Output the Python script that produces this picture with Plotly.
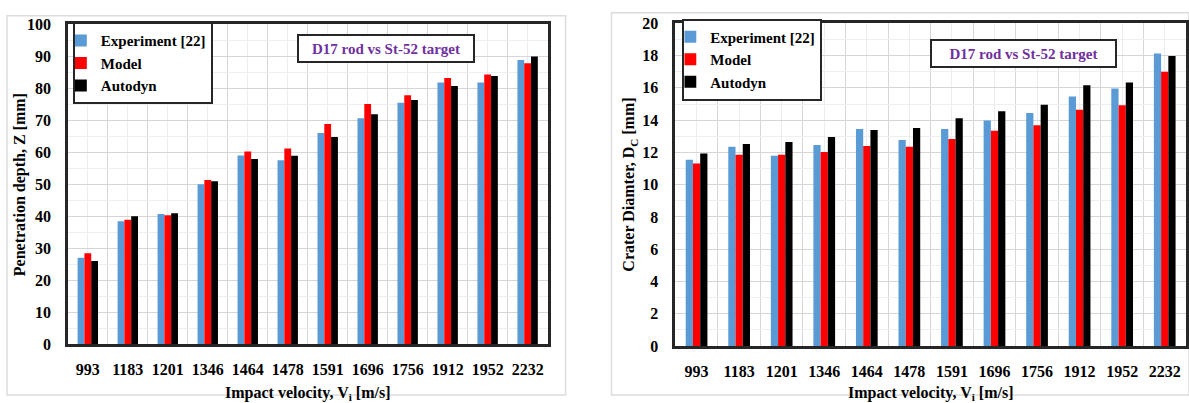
import plotly.graph_objects as go

# Impact velocities (m/s) shared by both panels
velocities = ["993", "1183", "1201", "1346", "1464", "1478",
              "1591", "1696", "1756", "1912", "1952", "2232"]

# Penetration depth Z [mm]
depth_experiment = [27.0, 38.4, 40.7, 50.0, 59.0, 57.5, 66.0, 70.6, 75.5, 81.8, 81.8, 88.8]
depth_model      = [28.4, 38.9, 40.3, 51.3, 60.2, 61.2, 68.8, 75.1, 77.8, 83.2, 84.3, 87.8]
depth_autodyn    = [26.0, 40.0, 40.9, 50.9, 57.9, 58.9, 64.8, 71.9, 76.3, 80.7, 83.8, 89.9]

# Crater diameter Dc [mm]
crater_experiment = [11.55, 12.35, 11.79, 12.46, 13.46, 12.77, 13.45, 13.98, 14.45, 15.46, 15.96, 18.13]
crater_model      = [11.31, 11.86, 11.86, 12.02, 12.40, 12.36, 12.83, 13.35, 13.68, 14.65, 14.93, 17.00]
crater_autodyn    = [11.94, 12.53, 12.65, 12.95, 13.39, 13.52, 14.12, 14.55, 14.96, 16.17, 16.33, 17.97]

series_names = ["Experiment [22]", "Model", "Autodyn"]
series_colors = ["#5B9BD5", "#FF0000", "#000000"]

W, H = 1189, 403
FONT = "Liberation Serif"
AXIS_LINE = "#262626"


def px_x(x):
    return x / W


def px_y(y):
    return 1 - y / H


xpos = list(range(len(velocities)))

fig = go.Figure()

left_sets = [depth_experiment, depth_model, depth_autodyn]
right_sets = [crater_experiment, crater_model, crater_autodyn]

for name, color, vals in zip(series_names, series_colors, left_sets):
    fig.add_trace(go.Bar(x=xpos, y=vals, name=name, marker_color=color,
                         marker_line_width=0, xaxis="x", yaxis="y",
                         legend="legend"))
for name, color, vals in zip(series_names, series_colors, right_sets):
    fig.add_trace(go.Bar(x=xpos, y=vals, name=name, marker_color=color,
                         marker_line_width=0, xaxis="x2", yaxis="y2",
                         legend="legend2"))

tick_font = dict(family=FONT, size=16, color="black", weight="bold")


def x_axis(domain, anchor):
    return dict(
        domain=domain, anchor=anchor, range=[-0.5, len(velocities) - 0.5],
        tickmode="array", tickvals=xpos, ticktext=velocities,
        tickfont=tick_font, ticks="", ticklabelstandoff=9,
        showgrid=True, gridcolor="#ededed", gridwidth=1,
        minor=dict(tickmode="array",
                   tickvals=[i - 0.5 for i in range(len(velocities) + 1)],
                   showgrid=True, gridcolor="#d6d6d6", gridwidth=1, ticks=""),
        showline=True, mirror=True, linecolor=AXIS_LINE, linewidth=2.5,
        zeroline=False, fixedrange=True,
    )


def y_axis(domain, anchor, top, major, minor):
    return dict(
        domain=domain, anchor=anchor, range=[0, top],
        tickmode="linear", tick0=0, dtick=major,
        tickfont=tick_font, ticks="", ticklabelstandoff=11,
        showgrid=True, gridcolor="#d6d6d6", gridwidth=1,
        minor=dict(dtick=minor, showgrid=True, gridcolor="#efefef", gridwidth=1, ticks=""),
        showline=True, mirror=True, linecolor=AXIS_LINE, linewidth=2.5,
        zeroline=False, fixedrange=True,
    )


legend_common = dict(
    bgcolor="white", bordercolor=AXIS_LINE, borderwidth=2,
    font=dict(family=FONT, size=15, color="black", weight="bold"),
    xanchor="left", yanchor="top", tracegroupgap=0,
    itemwidth=30, traceorder="normal", indentation=-14,
)

fig.update_layout(
    width=W, height=H,
    margin=dict(l=0, r=0, t=0, b=0),
    paper_bgcolor="white", plot_bgcolor="white",
    barmode="group", bargap=0.49, bargroupgap=0,
    xaxis=x_axis([px_x(68), px_x(549)], "y"),
    yaxis=y_axis([px_y(351), px_y(17)], "x", 100, 10, 5),
    xaxis2=x_axis([px_x(677), 1.0], "y2"),
    yaxis2=y_axis([px_y(353), px_y(16)], "x2", 20, 2, 1),
    legend=dict(x=px_x(73), y=px_y(15), **legend_common),
    legend2=dict(x=px_x(684), y=px_y(11), **legend_common),
    font=dict(family=FONT, color="black"),
)

title_font = dict(family=FONT, size=16, color="black", weight="bold")
box_font = dict(family=FONT, size=15, color="#7030A0", weight="bold")


def label(text, x, y, xanchor="center", yanchor="middle", **kw):
    return dict(text=text, x=px_x(x), y=px_y(y), xref="paper", yref="paper",
                xanchor=xanchor, yanchor=yanchor, showarrow=False, **kw)


annotations = [
    # axis titles
    label("Impact velocity, V<sub>i</sub> [m/s]", 308, 391, yshift=-11,
          font=title_font),
    label("Penetration depth, Z [mm]", 20, 184, textangle=-90, font=title_font),
    label("Impact velocity, V<sub>i</sub> [m/s]", 933, 391, yshift=-11,
          font=title_font),
    label("Crater Diamter, D<sub>C</sub> [mm]", 631, 184, textangle=-90, font=title_font),
    # case labels
    label("D17 rod vs St-52 target", 387, 42.5, font=box_font,
          width=172, height=23, bgcolor="white", bordercolor=AXIS_LINE,
          borderwidth=2, borderpad=1),
    label("D17 rod vs St-52 target", 1026.5, 47.5, font=box_font,
          width=181, height=23, bgcolor="white", bordercolor=AXIS_LINE,
          borderwidth=2, borderpad=1),
]
fig.update_layout(annotations=annotations)

# light outlines framing each chart panel
fig.update_layout(shapes=[
    dict(type="rect", xref="paper", yref="paper", layer="below",
         x0=px_x(7), x1=px_x(567), y0=px_y(404), y1=px_y(8),
         line=dict(color="#dcdcdc", width=1.5), fillcolor="rgba(0,0,0,0)"),
    dict(type="rect", xref="paper", yref="paper", layer="below",
         x0=px_x(613), x1=px_x(1192), y0=px_y(404), y1=px_y(5),
         line=dict(color="#dcdcdc", width=1.5), fillcolor="rgba(0,0,0,0)"),
])

fig.write_html("out.html")
